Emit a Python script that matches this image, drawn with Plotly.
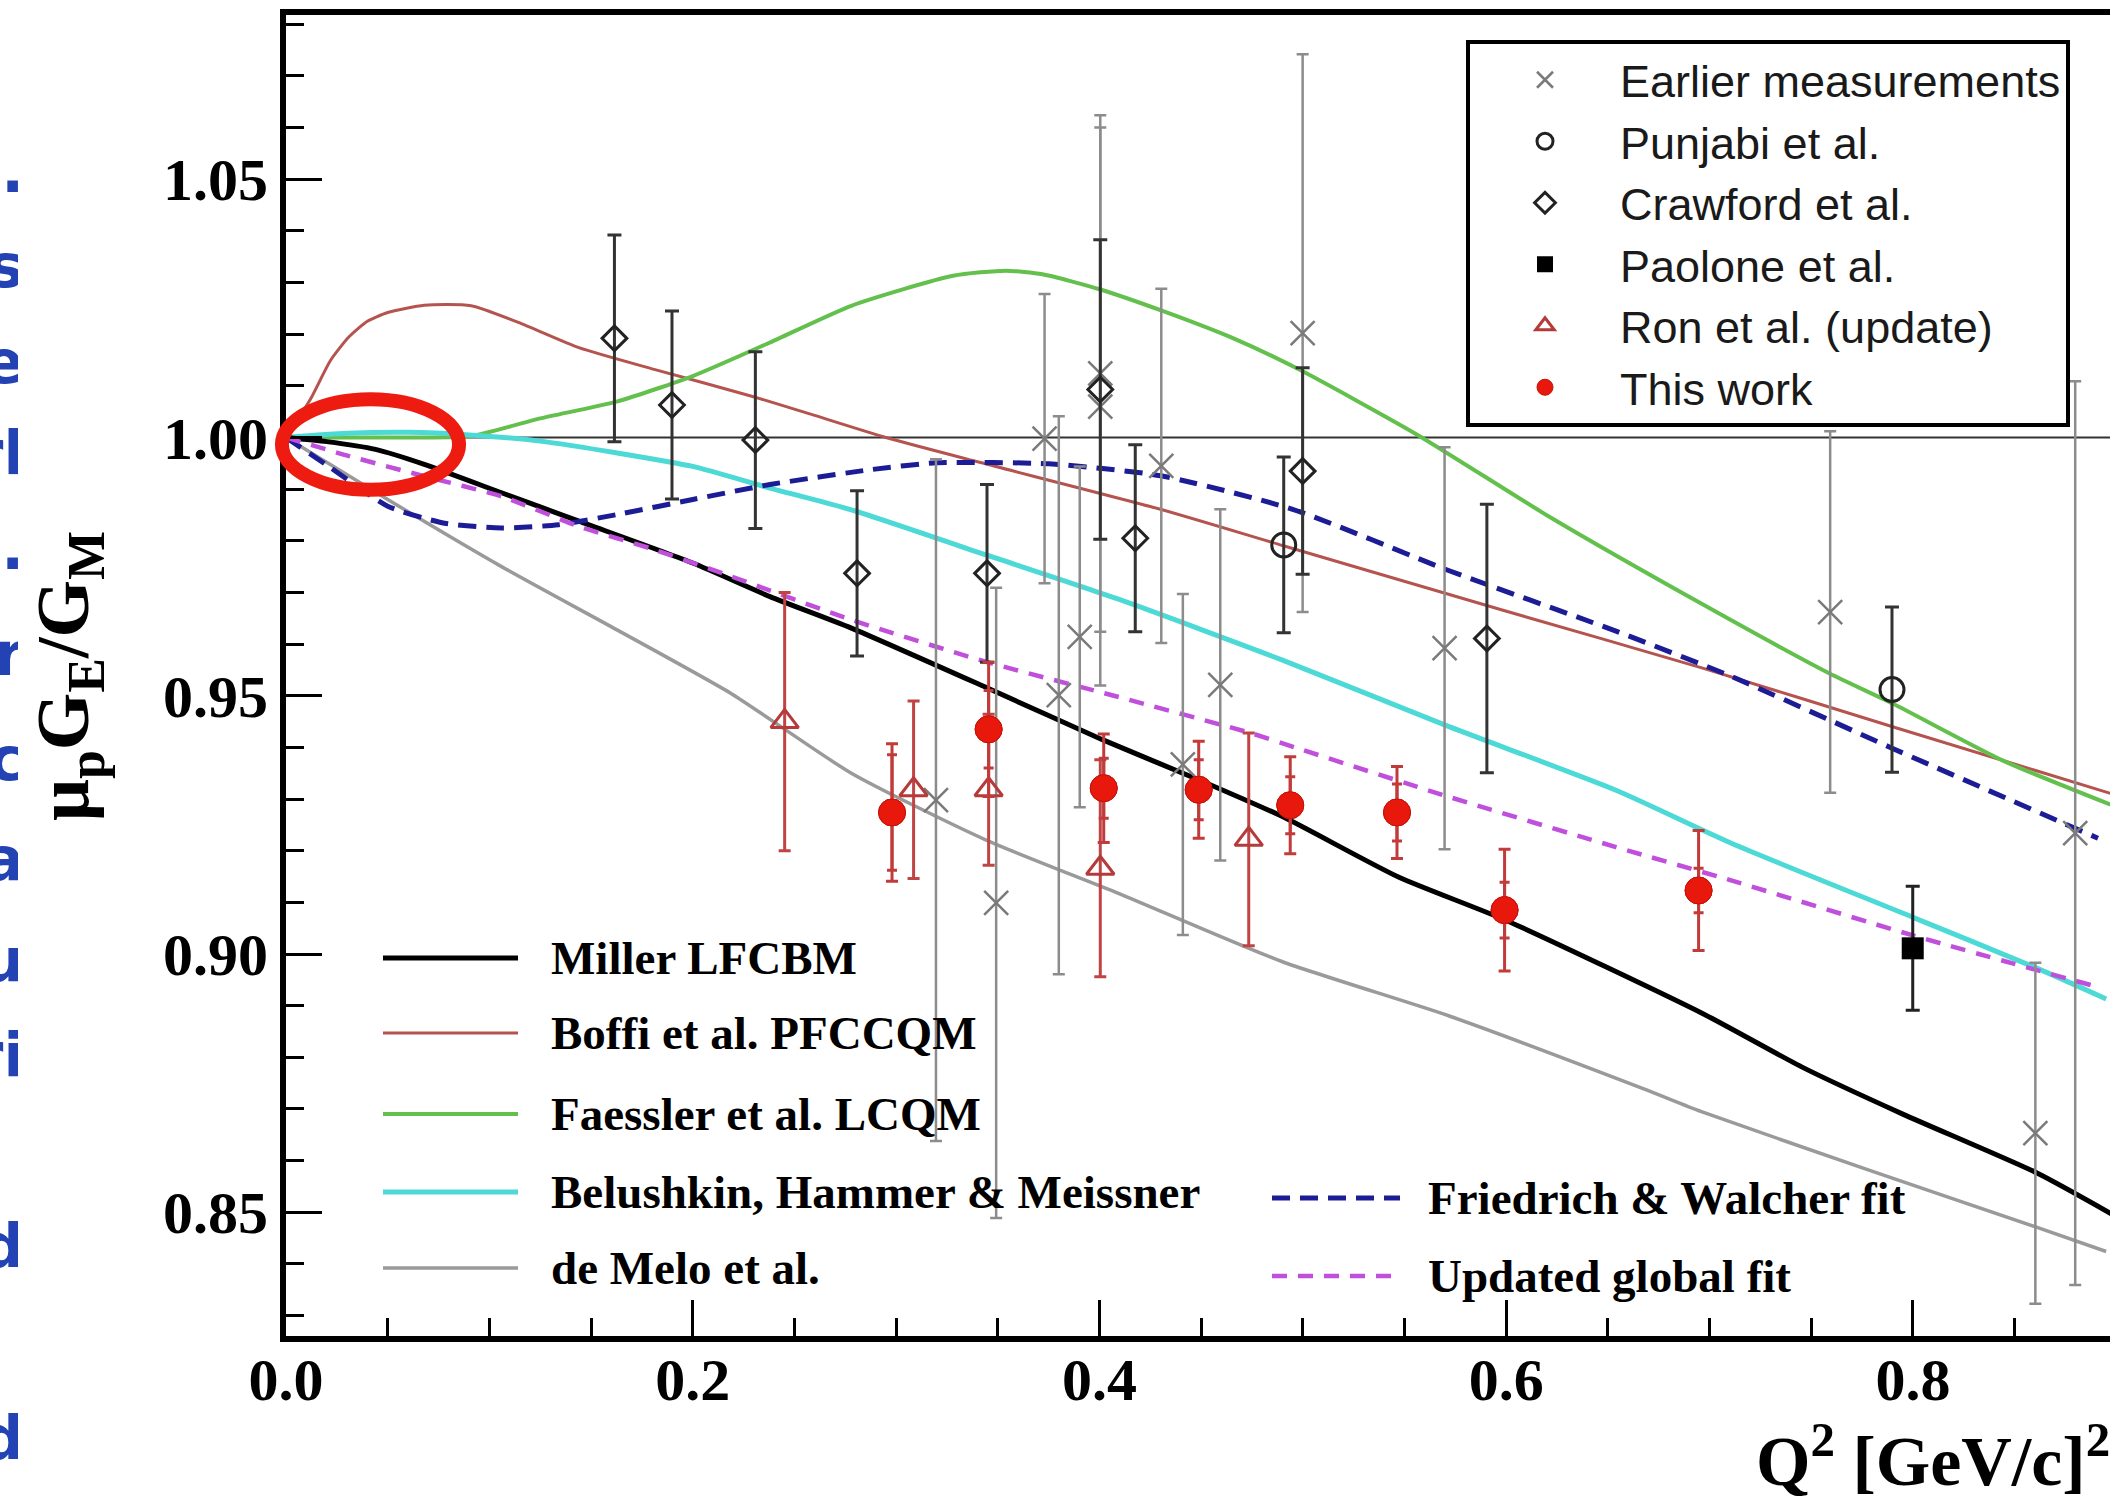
import plotly.graph_objects as go

# ---------------- data ----------------
# Theory curves: Q^2 [GeV^2] vs mu_p G_E / G_M
miller_q2 = [0, 0.02, 0.044, 0.068, 0.106, 0.144, 0.200, 0.238, 0.278, 0.346, 0.402, 0.449,
             0.490, 0.547, 0.600, 0.697, 0.746, 0.795, 0.861, 0.898]
miller_r = [1.0, 0.9992, 0.9977, 0.9948, 0.9893, 0.9838, 0.9757, 0.9692, 0.9631, 0.9513, 0.9414, 0.9337,
            0.9266, 0.9149, 0.9065, 0.8884, 0.8780, 0.8690, 0.8576, 0.8496]

boffi_q2 = [0, 0.012, 0.022, 0.031, 0.040, 0.050, 0.068, 0.091, 0.116, 0.144, 0.181, 0.229, 0.254, 0.295,
            0.342, 0.430, 0.490, 0.598, 0.697, 0.790, 0.898]
boffi_r = [1.0, 1.0074, 1.0150, 1.0195, 1.0225, 1.0242, 1.0256, 1.0255, 1.0220, 1.0174, 1.0132, 1.0080,
           1.0050, 1.0000, 0.9951, 0.9861, 0.9791, 0.9666, 0.9553, 0.9440, 0.9310]

faessler_q2 = [0, 0.05, 0.091, 0.125, 0.163, 0.200, 0.238, 0.278, 0.328, 0.354, 0.372, 0.400, 0.431,
               0.467, 0.498, 0.556, 0.621, 0.697, 0.759, 0.790, 0.844, 0.898]
faessler_r = [1.0, 1.0, 1.0003, 1.0037, 1.0070, 1.0119, 1.0184, 1.0255, 1.0313, 1.0323, 1.0316, 1.0287,
              1.0245, 1.0190, 1.0132, 1.0006, 0.9847, 0.9676, 0.9543, 0.9485, 0.9375, 0.9288]

belushkin_q2 = [0, 0.03, 0.06, 0.09, 0.125, 0.163, 0.200, 0.238, 0.278, 0.344, 0.410, 0.490, 0.570,
                0.654, 0.711, 0.800, 0.860, 0.895]
belushkin_r = [1.0, 1.0008, 1.0010, 1.0005, 0.9993, 0.9970, 0.9944, 0.9902, 0.9860, 0.9773, 0.9686,
               0.9569, 0.9443, 0.9317, 0.9214, 0.9071, 0.8974, 0.8913]

demelo_q2 = [0, 0.050, 0.106, 0.163, 0.219, 0.278, 0.344, 0.409, 0.490, 0.572, 0.667, 0.696, 0.778,
             0.860, 0.895]
demelo_r = [1.0, 0.9880, 0.9750, 0.9627, 0.9504, 0.9350, 0.9221, 0.9118, 0.8985, 0.8880, 0.8740, 0.8695,
            0.8582, 0.8472, 0.8424]

fw_q2 = [0, 0.021, 0.050, 0.078, 0.106, 0.134, 0.163, 0.200, 0.238, 0.288, 0.320, 0.375, 0.430, 0.495,
         0.572, 0.654, 0.711, 0.790, 0.891]
fw_r = [1.0, 0.9944, 0.9867, 0.9834, 0.9825, 0.9831, 0.9851, 0.9880, 0.9909, 0.9938, 0.9951, 0.9949,
        0.9926, 0.9861, 0.9742, 0.9625, 0.9537, 0.9398, 0.9224]

global_q2 = [0, 0.031, 0.068, 0.106, 0.144, 0.181, 0.219, 0.278, 0.344, 0.409, 0.475, 0.500, 0.572,
             0.654, 0.711, 0.800, 0.891]
global_r = [1.0, 0.9964, 0.9925, 0.9886, 0.9828, 0.9783, 0.9731, 0.9647, 0.9566, 0.9498, 0.9427, 0.9395,
            0.9304, 0.9207, 0.9142, 0.9036, 0.8936]

# Measurements
earlier_q2 = [0.3196, 0.3492, 0.3730, 0.3800, 0.3903, 0.4004, 0.4004, 0.4304, 0.4410, 0.4594, 0.4999,
              0.5697, 0.7593, 0.8602, 0.8798]
earlier_r = [0.9298, 0.9099, 0.9998, 0.9501, 0.9614, 1.0124, 1.0060, 0.9945, 0.9367, 0.9521, 1.0202,
             0.9592, 0.9662, 0.8653, 0.9234]
earlier_err = [0.066, 0.061, 0.028, 0.054, 0.033, 0.050, 0.054, 0.0343, 0.033, 0.034, 0.054, 0.0389,
               0.035, 0.033, 0.0875]

punjabi_q2 = [0.4906, 0.7897]
punjabi_r = [0.9792, 0.9512]
punjabi_err = [0.0170, 0.0160]

crawford_q2 = [0.1615, 0.1898, 0.2308, 0.2808, 0.3447, 0.4004, 0.4176, 0.4999, 0.5905]
crawford_r = [1.0192, 1.0063, 0.9995, 0.9737, 0.9737, 1.0093, 0.9805, 0.9935, 0.9611]
crawford_err = [0.0200, 0.0182, 0.0171, 0.0160, 0.0172, 0.0290, 0.0181, 0.0200, 0.0260]

paolone_q2 = [0.7999]
paolone_r = [0.9011]
paolone_err = [0.0120]

ron_q2 = [0.2452, 0.3086, 0.3455, 0.4004, 0.4734]
ron_r = [0.9450, 0.9318, 0.9318, 0.9166, 0.9222]
ron_err = [0.0250, 0.0172, 0.0146, 0.0210, 0.0206]

this_q2 = [0.2980, 0.3455, 0.4021, 0.4488, 0.4938, 0.5463, 0.5992, 0.6946]
this_r = [0.9274, 0.9435, 0.9321, 0.9318, 0.9288, 0.9274, 0.9085, 0.9123]
this_err_tot = [0.0133, 0.0130, 0.0105, 0.0094, 0.0094, 0.0089, 0.0118, 0.0116]
this_err_stat = [0.0112, 0.0075, 0.0058, 0.0058, 0.0055, 0.0055, 0.0054, 0.0043]

unity = 1.0

model_names = ["Miller LFCBM", "Boffi et al. PFCCQM", "Faessler et al. LCQM",
               "Belushkin, Hammer & Meissner", "de Melo et al."]
fit_names = ["Friedrich & Walcher fit", "Updated global fit"]

# Slide text running into the figure from the left
side_fragments = ["e.", "'s", "e", "rl", "o.", "r", "c", "a", "u", "ri", "d", "d"]

# ---------------- geometry ----------------
W, H = 2110, 1499
PX_L, PX_R, PX_T, PX_B = 286, 2110, 15, 1336
X_RANGE = [0.0, 0.8969]
Y_RANGE = [0.82604, 1.08180]


def paper_x(px):
    return px / W


def paper_y(py):
    return 1 - py / H


def q2_to_paper(q):
    return paper_x(PX_L + (q - X_RANGE[0]) / (X_RANGE[1] - X_RANGE[0]) * (PX_R - PX_L))


def r_to_paper(r):
    return paper_y(PX_B - (r - Y_RANGE[0]) / (Y_RANGE[1] - Y_RANGE[0]) * (PX_B - PX_T))


# ---------------- styles ----------------
model_styles = [
    dict(color="#000000", width=5),
    dict(color="#b5544e", width=3),
    dict(color="#63c04c", width=4),
    dict(color="#4ddad6", width=5),
    dict(color="#9a9a9a", width=3.5),
]
fit_styles = [
    dict(color="#1c1c96", width=5, dash="18px,10px"),
    dict(color="#c050dc", width=4.5, dash="15px,11px"),
]

fig = go.Figure()

# y = 1 reference line
fig.add_trace(go.Scatter(x=X_RANGE, y=[unity, unity], mode="lines",
                         line=dict(color="#333333", width=2), showlegend=False, hoverinfo="skip"))

curves = [(miller_q2, miller_r), (boffi_q2, boffi_r), (faessler_q2, faessler_r),
          (belushkin_q2, belushkin_r), (demelo_q2, demelo_r)]
# draw de Melo first so the others sit above it
for idx in [4, 1, 2, 3, 0]:
    qx, ry = curves[idx]
    fig.add_trace(go.Scatter(x=qx, y=ry, mode="lines", name=model_names[idx],
                             line=dict(shape="spline", smoothing=0.6, **model_styles[idx]),
                             showlegend=False, hoverinfo="skip"))
for (qx, ry), nm, st in zip([(fw_q2, fw_r), (global_q2, global_r)], fit_names, fit_styles):
    fig.add_trace(go.Scatter(x=qx, y=ry, mode="lines", name=nm,
                             line=dict(shape="spline", smoothing=0.6, **st),
                             showlegend=False, hoverinfo="skip"))

# measurements
fig.add_trace(go.Scatter(
    x=earlier_q2, y=earlier_r, mode="markers", name="Earlier measurements", legendgroup="a",
    marker=dict(symbol="x-thin-open", size=24, color="#7a7a7a", line=dict(width=2.5, color="#7a7a7a")),
    error_y=dict(type="data", array=earlier_err, color="#8c8c8c", thickness=2.5, width=6)))
fig.add_trace(go.Scatter(
    x=punjabi_q2, y=punjabi_r, mode="markers", name="Punjabi et al.", legendgroup="b",
    marker=dict(symbol="circle-open", size=24, color="#222222", line=dict(width=3, color="#222222")),
    error_y=dict(type="data", array=punjabi_err, color="#333333", thickness=3, width=7)))
fig.add_trace(go.Scatter(
    x=crawford_q2, y=crawford_r, mode="markers", name="Crawford et al.", legendgroup="c",
    marker=dict(symbol="diamond-open", size=19, color="#222222", line=dict(width=3, color="#222222")),
    error_y=dict(type="data", array=crawford_err, color="#333333", thickness=3, width=7)))
fig.add_trace(go.Scatter(
    x=paolone_q2, y=paolone_r, mode="markers", name="Paolone et al.", legendgroup="d",
    marker=dict(symbol="square", size=22, color="#000000"),
    error_y=dict(type="data", array=paolone_err, color="#222222", thickness=3, width=7)))
fig.add_trace(go.Scatter(
    x=ron_q2, y=ron_r, mode="markers", name="Ron et al. (update)", legendgroup="e",
    marker=dict(symbol="triangle-up-open", size=24, color="#b53a3a", line=dict(width=3, color="#b53a3a")),
    error_y=dict(type="data", array=ron_err, color="#c04444", thickness=3, width=6)))
fig.add_trace(go.Scatter(
    x=this_q2, y=this_r, mode="markers", name="This work", legendgroup="f",
    marker=dict(symbol="circle", size=27, color="#e8190c", line=dict(width=1, color="#c41208")),
    error_y=dict(type="data", array=this_err_tot, color="#c23b3b", thickness=3, width=6)))
fig.add_trace(go.Scatter(
    x=this_q2, y=this_r, mode="markers", showlegend=False, hoverinfo="skip",
    marker=dict(symbol="circle", size=27, color="#e8190c", line=dict(width=1, color="#c41208")),
    error_y=dict(type="data", array=this_err_stat, color="#c23b3b", thickness=3, width=5)))

# left slide text, clipped by a narrow helper subplot
side_y = [177, 272, 368, 459, 554, 660, 765, 865, 966, 1061, 1252, 1444]
fig.add_trace(go.Scatter(
    x=[24] * len(side_fragments), y=side_y, text=side_fragments, mode="text",
    textposition="middle left", cliponaxis=True, xaxis="x2", yaxis="y2",
    textfont=dict(family="DejaVu Sans", size=60, color="#2343b5", weight="bold"),
    showlegend=False, hoverinfo="skip"))

tick_font = dict(family="Liberation Serif", size=60, color="black", weight="bold")

fig.update_layout(
    width=W, height=H, autosize=False,
    margin=dict(l=0, r=0, t=0, b=0, pad=0, autoexpand=False),
    paper_bgcolor="white", plot_bgcolor="white",
    showlegend=True,
    xaxis=dict(domain=[paper_x(PX_L), paper_x(PX_R)], range=X_RANGE, anchor="y", automargin=False,
               showline=True, linecolor="black", linewidth=6, mirror=True,
               ticks="inside", ticklen=36, tickwidth=3, tickcolor="black",
               tickmode="linear", tick0=0, dtick=0.2, tickformat=".1f", ticklabelstandoff=-14,
               tickfont=tick_font, showgrid=False, zeroline=False,
               minor=dict(ticks="inside", ticklen=18, tickwidth=2.5, tickcolor="black",
                          dtick=0.05, tick0=0, showgrid=False)),
    yaxis=dict(domain=[paper_y(PX_B), paper_y(PX_T)], range=Y_RANGE, anchor="x", automargin=False,
               showline=True, linecolor="black", linewidth=6, mirror=False,
               ticks="inside", ticklen=36, tickwidth=3, tickcolor="black",
               tickmode="linear", tick0=0.85, dtick=0.05, tickformat=".2f",
               tickfont=tick_font, showgrid=False, zeroline=False,
               minor=dict(ticks="inside", ticklen=18, tickwidth=2.5, tickcolor="black",
                          dtick=0.01, tick0=0.85, showgrid=False)),
    xaxis2=dict(domain=[0, paper_x(18)], range=[0, 18], anchor="y2", visible=False,
                fixedrange=True, automargin=False),
    yaxis2=dict(domain=[0, 1], range=[H, 0], anchor="x2", visible=False,
                fixedrange=True, automargin=False),
    legend=dict(x=paper_x(1466), y=paper_y(40), xanchor="left", yanchor="top",
                bgcolor="white", bordercolor="black", borderwidth=4,
                font=dict(family="Liberation Sans", size=45, color="#1a1a1a"),
                itemwidth=140, traceorder="normal", tracegroupgap=2, itemsizing="trace"),
)

# axis titles
fig.add_annotation(text="<b>μ<sub>p</sub>G<sub>E</sub>/G<sub>M</sub></b>", xref="paper", yref="paper",
                   x=paper_x(68), y=paper_y(676), xanchor="center", yanchor="middle",
                   textangle=-90, showarrow=False,
                   font=dict(family="Liberation Serif", size=74, color="black"))
fig.add_annotation(text="<b>Q<sup>2</sup> [GeV/c]<sup>2</sup></b>", xref="paper", yref="paper",
                   x=paper_x(1754), y=paper_y(1456), xanchor="left", yanchor="middle", showarrow=False,
                   font=dict(family="Liberation Serif", size=70, color="black"))

# key for the model curves (two columns)
model_rows = [958, 1033, 1114, 1192, 1268]
for nm, st, py in zip(model_names, model_styles, model_rows):
    fig.add_shape(type="line", xref="paper", yref="paper", x0=paper_x(383), x1=paper_x(518),
                  y0=paper_y(py), y1=paper_y(py), line=dict(color=st["color"], width=st["width"]))
    fig.add_annotation(text="<b>%s</b>" % nm, xref="paper", yref="paper", x=paper_x(549), y=paper_y(py),
                       xanchor="left", yanchor="middle", showarrow=False,
                       font=dict(family="Liberation Serif", size=47, color="black"))
fit_rows = [1198, 1276]
for nm, st, py in zip(fit_names, fit_styles, fit_rows):
    fig.add_shape(type="line", xref="paper", yref="paper", x0=paper_x(1272), x1=paper_x(1400),
                  y0=paper_y(py), y1=paper_y(py),
                  line=dict(color=st["color"], width=st["width"], dash=st["dash"]))
    fig.add_annotation(text="<b>%s</b>" % nm, xref="paper", yref="paper", x=paper_x(1426), y=paper_y(py),
                       xanchor="left", yanchor="middle", showarrow=False,
                       font=dict(family="Liberation Serif", size=47, color="black"))

# red highlight around the low-Q^2 region
fig.add_shape(type="circle", xref="paper", yref="paper", layer="above",
              x0=q2_to_paper(-0.002), x1=q2_to_paper(0.0851),
              y0=r_to_paper(1.0074), y1=r_to_paper(0.9899),
              line=dict(color="#ee1c10", width=14))

fig.write_html("out.html")
